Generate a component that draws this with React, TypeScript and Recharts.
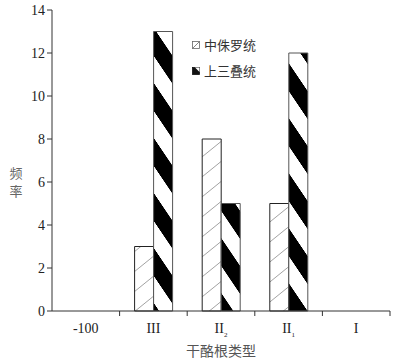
import { BarChart, Bar, XAxis, YAxis } from "recharts"

const categories = ["-100", "III", "II_2", "II_1", "I"]
const middleJurassic = [0, 3, 8, 5, 0]
const upperTriassic = [0, 13, 5, 12, 0]
const yTicks = [0, 2, 4, 6, 8, 10, 12, 14]

const seriesNames = { mid: "中侏罗统", upper: "上三叠统" }
const yLabelChars = ["频", "率"]

const W = 399
const H = 360
const MARGIN = { top: 10, right: 9, bottom: 0, left: 0 }
const Y_AXIS_W = 52
const X_AXIS_H = 49
const BAND = (W - MARGIN.right - Y_AXIS_W) / categories.length

const serif = "'Liberation Serif', 'Times New Roman', serif"
const cjk = "'Noto Sans CJK SC', sans-serif"

function XTick(props: any) {
  const { x, y, payload } = props
  const [main, sub] = String(payload.value).split("_")
  return (
    <g>
      <line x1={x + BAND / 2} y1={y - 8} x2={x + BAND / 2} y2={y - 3} stroke="#333" strokeWidth={1} />
      <text x={x} y={y + 14} textAnchor="middle" fontFamily={serif} fontSize={14} fill="#222">
        {main}
        {sub && (
          <tspan fontSize={7} dy={4}>
            {sub}
          </tspan>
        )}
      </text>
    </g>
  )
}

function ChartLegend() {
  const rows = [
    { key: "mid", label: seriesNames.mid },
    { key: "upper", label: seriesNames.upper },
  ]
  return (
    <div
      style={{
        position: "absolute",
        left: 191,
        top: 32,
        fontFamily: cjk,
        fontSize: 13,
        color: "#333",
        lineHeight: "26px",
      }}
    >
      {rows.map((r) => (
        <div key={r.key} style={{ display: "flex", alignItems: "center" }}>
          <svg width={10} height={10} style={{ marginRight: 3 }}>
            {r.key === "mid" ? (
              <g>
                <rect x={1.5} y={1.5} width={7} height={7} fill="#fff" stroke="#666" strokeWidth={0.8} />
                <line x1={1.5} y1={8.5} x2={8.5} y2={1.5} stroke="#666" strokeWidth={0.8} />
              </g>
            ) : (
              <g>
                <rect x={1.5} y={1.5} width={7} height={7} fill="#111" stroke="#111" strokeWidth={0.8} />
                <polygon points="4,1.5 8.5,1.5 8.5,6" fill="#fff" />
              </g>
            )}
          </svg>
          <span>{r.label}</span>
        </div>
      ))}
    </div>
  )
}

export default function App() {
  const data = categories.map((c, i) => ({
    type: c,
    mid: middleJurassic[i],
    upper: upperTriassic[i],
  }))

  return (
    <div style={{ position: "fixed", left: 0, top: 0, width: W, height: H, background: "#fff" }}>
      <BarChart width={W} height={H} data={data} margin={MARGIN} barGap={0} barSize={19}>
        <defs>
          <pattern
            id="hatchMid"
            patternUnits="userSpaceOnUse"
            width={10}
            height={20}
            patternTransform="skewY(-39)"
          >
            <rect x={0} y={0} width={10} height={20} fill="#fff" />
            <line x1={0} y1={0.5} x2={10} y2={0.5} stroke="#8a8a8a" strokeWidth={0.8} />
          </pattern>
          <pattern
            id="stripeUpper"
            patternUnits="userSpaceOnUse"
            width={20}
            height={55}
            patternTransform="translate(0,20) skewY(56)"
          >
            <rect x={0} y={0} width={20} height={55} fill="#fff" />
            <rect x={0} y={0} width={20} height={28} fill="#000" />
          </pattern>
        </defs>
        <XAxis
          dataKey="type"
          height={X_AXIS_H}
          interval={0}
          tickLine={false}
          axisLine={{ stroke: "#333" }}
          tick={<XTick />}
          label={{
            value: "干酪根类型",
            position: "insideBottom",
            offset: 4,
            style: { fontFamily: cjk, fontSize: 14, fill: "#555" },
          }}
        />
        <YAxis
          width={Y_AXIS_W}
          domain={[0, 14]}
          ticks={yTicks}
          interval={0}
          tickSize={5}
          axisLine={{ stroke: "#333" }}
          tickLine={{ stroke: "#333" }}
          tick={{ fontFamily: serif, fontSize: 14, fill: "#222" }}
        />
        <Bar dataKey="mid" name={seriesNames.mid} fill="url(#hatchMid)" stroke="#222" strokeWidth={1} isAnimationActive={false} />
        <Bar dataKey="upper" name={seriesNames.upper} fill="url(#stripeUpper)" stroke="#555" strokeWidth={1} isAnimationActive={false} />
        {yLabelChars.map((ch, i) => (
          <text
            key={ch}
            x={16}
            y={178 + i * 18}
            textAnchor="middle"
            fontFamily={cjk}
            fontSize={13}
            fill="#666"
          >
            {ch}
          </text>
        ))}
      </BarChart>
      <ChartLegend />
    </div>
  )
}
